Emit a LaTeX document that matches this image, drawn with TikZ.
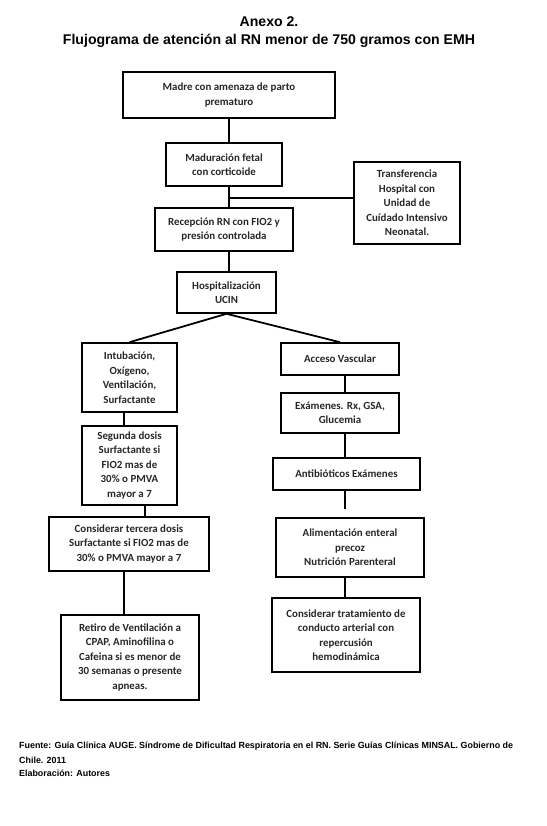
\documentclass[tikz,border=0pt]{standalone}
\usepackage{fontspec}
\setmainfont{Carlito}
\newfontfamily\arialfont{Liberation Sans}

\begin{document}
\begin{tikzpicture}[x=1pt,y=-1pt,
    caja/.style={draw, line width=1.6pt, align=center, inner sep=1pt, text=black!85,
      font=\fontsize{10.9}{14.5}\selectfont\bfseries},
    linea/.style={line width=1.2pt},
    diag/.style={line width=1.8pt},
    doble/.style={draw=gray, line width=0.5pt, double=white, double distance=1.2pt},
    titulo/.style={font=\arialfont\bfseries\fontsize{14.1}{16}\selectfont, inner sep=0pt},
    pie/.style={font=\arialfont\bfseries\fontsize{8.9}{10}\selectfont, inner sep=0pt, anchor=west}]
  \useasboundingbox (0,0) rectangle (546,826);

  % titulo
  \node[titulo] (anexo) at (269,22) {Anexo 2.};
  \node[titulo] (tit) at (269,41) {Flujograma de atención al RN menor de 750 gramos con EMH};

  % cajas: nombre/x/y/ancho/alto/texto
  \foreach \n/\x/\y/\w/\h/\t in {
    b1/229/95/212/46/{Madre con amenaza de parto\\prematuro},
    b2/224/164.5/116/43/{Maduración fetal\\con corticoide},
    tr/407/203/106/82/{Transferencia\\Hospital con\\Unidad de\\Cuídado Intensivo\\Neonatal.},
    b3/224/229.5/138/43/{Recepción RN con FIO2 y\\presión controlada},
    b4/226.5/292.5/99/41/{Hospitalización\\UCIN},
    l1/129.5/377.5/95/69/{Intubación,\\Oxígeno,\\Ventilación,\\Surfactante},
    l2/129.5/465.5/95/79/{Segunda dosis\\Surfactante si\\FIO2 mas de\\30\% o PMVA\\mayor a 7},
    l3/129/544/160/54/{Considerar tercera dosis\\Surfactante si FIO2 mas de\\30\% o PMVA mayor a 7},
    l4/130/657.5/138/85/{Retiro de Ventilación a\\CPAP, Aminofilina o\\Cafeina si es menor de\\30 semanas o presente\\apneas.},
    r1/340/359/118/32/{Acceso Vascular},
    r2/340/413/118/40/{Exámenes. Rx, GSA,\\Glucemia},
    r3/346.5/474/147/32/{Antibióticos Exámenes},
    r4/350/547.5/148/59/{Alimentación enteral\\precoz\\Nutrición Parenteral},
    r5/346/635/148/74/{Considerar tratamiento de\\conducto arterial con\\repercusión\\hemodinámica}}
    \node[caja, minimum width=\w pt, minimum height=\h pt] (\n) at (\x,\y) {\t};

  % columna central
  \draw[linea] (b1.south) -- (b1.south |- b2.north);
  \draw[linea] (b1.south |- b2.south) -- (b1.south |- b3.north);
  \coordinate (tj) at (229,198);
  \draw[linea] (tj) -- (tj -| tr.west);
  \draw[linea] (b1.south |- b3.south) -- (b1.south |- b4.north);
  \draw[diag] (b4.south) -- (l1.north);
  \draw[diag] (b4.south) -- (r1.north);

  % columna izquierda
  \coordinate (ix) at (124,0);
  \coordinate (iy) at (145,0);
  \draw[linea] (ix |- l1.south) -- (ix |- l2.north);
  \draw[linea] (iy |- l2.south) -- (iy |- l3.north);
  \draw[linea] (ix |- l3.south) -- (ix |- l4.north);

  % columna derecha
  \coordinate (dx) at (345,0);
  \coordinate (corte) at (345,509);
  \coordinate (cierre) at (345,686);
  \draw[linea] (dx |- r1.south) -- (dx |- r2.north);
  \draw[linea] (dx |- r2.south) -- (dx |- r3.north);
  \draw[linea] (dx |- r3.south) -- (corte);
  \draw[linea] (dx |- r4.south) -- (dx |- r5.north);
  \draw[doble] (dx |- r5.south) -- (cierre) -- (cierre -| l4.east);

  % pie
  \node[pie] (fuente) at (19,746) {Fuente: Guía Clínica AUGE. Síndrome de Dificultad Respiratoria en el RN. Serie Guías Clínicas MINSAL. Gobierno de};
  \node[pie] (chile) at (19,760) {Chile. 2011};
  \node[pie] (elab) at (19,773) {Elaboración: Autores};
\end{tikzpicture}
\end{document}
